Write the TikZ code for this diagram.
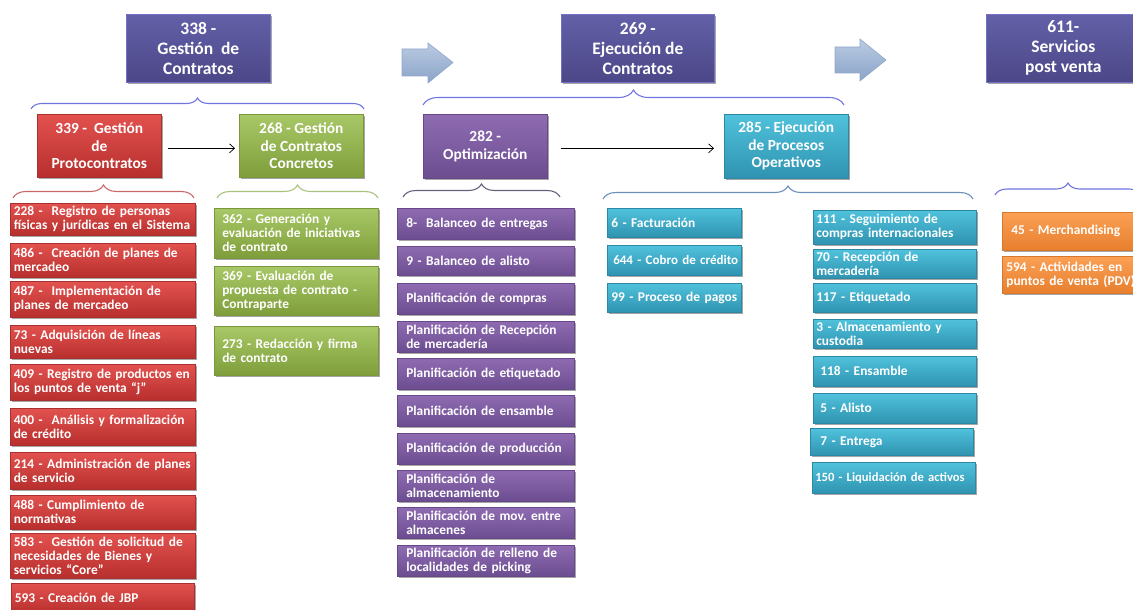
\documentclass[tikz,border=0pt]{standalone}
\usepackage{fontspec}
\setmainfont{Carlito}
\usetikzlibrary{shadows,decorations.pathreplacing,arrows.meta}
\definecolor{hdrT}{HTML}{6460A8}
\definecolor{hdrB}{HTML}{4B4787}
\definecolor{hdrD}{HTML}{7471C4}
\definecolor{redT}{HTML}{E2524F}
\definecolor{redB}{HTML}{B72F2D}
\definecolor{redD}{HTML}{A8302E}
\definecolor{grnT}{HTML}{A8C766}
\definecolor{grnB}{HTML}{7F9E3B}
\definecolor{grnD}{HTML}{7A973C}
\definecolor{purT}{HTML}{8F6CB2}
\definecolor{purB}{HTML}{6C4D90}
\definecolor{purD}{HTML}{67498A}
\definecolor{cyaT}{HTML}{50C2DC}
\definecolor{cyaB}{HTML}{2F93B0}
\definecolor{cyaD}{HTML}{2C88A3}
\definecolor{oraT}{HTML}{FBA055}
\definecolor{oraB}{HTML}{E77F2E}
\definecolor{oraD}{HTML}{D5772C}
\definecolor{arrT}{HTML}{BACBE3}
\definecolor{arrB}{HTML}{8AA3C7}
\definecolor{arrD}{HTML}{8FA7C9}
\definecolor{brBlue}{HTML}{7075E2}
\definecolor{brRed}{HTML}{C96868}
\definecolor{brGrn}{HTML}{A9C27C}
\definecolor{brPur}{HTML}{65607A}
\definecolor{brCya}{HTML}{6A8EB8}
\begin{document}
\begin{tikzpicture}[x=1pt,y=-1pt,
  shd/.style={drop shadow={shadow xshift=1.2pt,shadow yshift=-1.8pt,opacity=0.35,fill=black}},
  hdr/.style={rectangle,anchor=north west,inner sep=0pt,shd,top color=hdrT,bottom color=hdrB,draw=hdrD,line width=0.7pt,
    text=white,align=center,font=\fontsize{17.5}{20}\selectfont\bfseries},
  lvl/.style={rectangle,anchor=north west,inner sep=0pt,shd,line width=0.6pt,
    text=white,align=center,font=\fontsize{15.4}{17.5}\selectfont\bfseries,minimum width=124pt,minimum height=63pt},
  box/.style={rectangle,anchor=north west,inner ysep=0pt,shd,line width=0.6pt,
    text=white,align=left,font=\fontsize{13.4}{14}\selectfont\bfseries,
    execute at begin node={\hyphenpenalty=10000\exhyphenpenalty=10000\hbadness=10000\hfuzz=50pt}},
  redc/.style={top color=redT,bottom color=redB,draw=redD},
  grnc/.style={top color=grnT,bottom color=grnB,draw=grnD},
  purc/.style={top color=purT,bottom color=purB,draw=purD},
  cyac/.style={top color=cyaT,bottom color=cyaB,draw=cyaD},
  orac/.style={top color=oraT,bottom color=oraB,draw=oraD},
  redbox/.style={box,redc,inner xsep=3.5pt,text width=178pt},
  grnbox/.style={box,grnc,inner xsep=8pt,text width=148pt},
  purbox/.style={box,purc,inner xsep=9pt,text width=159pt},
  cyalbox/.style={box,cyac,inner xsep=4pt,text width=126pt},
  cyarbox/.style={box,cyac,inner xsep=3pt,text width=157pt},
  orabox/.style={box,orac,inner xsep=4pt,text width=130pt},
  bigarrow/.style={top color=arrT,bottom color=arrB,draw=arrD,line width=0.6pt},
  conn/.style={draw=black,line width=0.7pt,-{Straight Barb[length=5pt,width=9pt]}},
  brc/.style={draw=#1,line width=1.1pt,decorate,decoration={brace,amplitude=13pt}}
]
\useasboundingbox (0,0) rectangle (1133,610);
\clip (0,0) rectangle (1133,610);

% ---------- big arrows ----------
\path[bigarrow] (402,49) -- (428,49) -- (428,43) -- (453,62.5) -- (428,83) -- (428,76) -- (402,76) -- cycle;
\path[bigarrow] (835,47) -- (860,47) -- (860,39) -- (886,60) -- (860,81) -- (860,73) -- (835,73) -- cycle;

% ---------- headers ----------
\node[hdr,minimum width=144pt,minimum height=68pt] (h338) at (126,14) {338 -\\Gestión~ de\\Contratos};
\node[hdr,minimum width=153pt,minimum height=68pt] (h269) at (561,14) {269 -\\Ejecución de\\Contratos};
\node[hdr,minimum width=154pt,minimum height=68pt] (h611) at (986,14) {611-\\Servicios\\post venta};

% ---------- header braces ----------
\coordinate (bA1) at (31,109);  \coordinate (bA2) at (364,109);
\coordinate (bB1) at (423,105); \coordinate (bB2) at (844,105);
\coordinate (bC1) at (995,195); \coordinate (bC2) at (1141,195);
\draw[brc=brBlue,decoration={amplitude=11pt}] (bA1) -- (bA2);
\draw[brc=brBlue,decoration={amplitude=15pt}] (bB1) -- (bB2);
\draw[brc=brBlue,decoration={amplitude=12pt}] (bC1) -- (bC2);

% ---------- level 2 ----------
\node[lvl,redc] (n339) at (37,114) {339 -~ Gestión\\de\\Protocontratos};
\node[lvl,grnc] (n268) at (239,114) {268 - Gestión\\de Contratos\\Concretos};
\node[lvl,purc,minimum height=64pt] (n282) at (423,114) {282 -\\Optimización};
\node[lvl,cyac,minimum height=64pt] (n285) at (724,114) {285 - Ejecución\\de Procesos\\Operativos};

\draw[conn,shorten <=6pt,shorten >=4pt] ([yshift=-2.5pt]n339.east) -- ([yshift=-2.5pt]n268.west);
\draw[conn,shorten <=13pt,shorten >=10pt] ([yshift=-2pt]n282.east) -- ([yshift=-2pt]n285.west);

% ---------- level 3 braces ----------
\coordinate (bR1) at (13,198);  \coordinate (bR2) at (194,198);
\coordinate (bG1) at (217,198); \coordinate (bG2) at (378,198);
\coordinate (bP1) at (403,197); \coordinate (bP2) at (560,197);
\coordinate (bQ1) at (603,199); \coordinate (bQ2) at (973,199);
\draw[brc=brRed] (bR1) -- (bR2);
\draw[brc=brGrn] (bG1) -- (bG2);
\draw[brc=brPur] (bP1) -- (bP2);
\draw[brc=brCya] (bQ1) -- (bQ2);

% ---------- red column ----------
\node[redbox,minimum height=32pt] (r228) at (10,203) {228 -~ Registro de personas\\físicas~y~jurídicas~en~el~Sistema};
\node[redbox,minimum height=34pt] (r486) at (10,243) {486 -~ Creación de planes de\\mercadeo};
\node[redbox,minimum height=36pt] (r487) at (10,281) {487 -~ Implementación de\\planes de mercadeo};
\node[redbox,minimum height=33pt] (r73) at (10,325) {73 - Adquisición de líneas\\nuevas};
\node[redbox,minimum height=36pt] (r409) at (10,364) {409~-~Registro~de~productos~en\\los puntos de venta “j”};
\node[redbox,minimum height=37pt] (r400) at (10,408) {400 -~ Análisis~y~formalización\\de crédito};
\node[redbox,minimum height=37pt] (r214) at (10,452) {214~-~Administración~de~planes\\de servicio};
\node[redbox,minimum height=34pt] (r488) at (10,495) {488 - Cumplimiento de\\normativas};
\node[redbox,minimum height=45pt] (r583) at (10,533) {583 -~ Gestión~de~solicitud~de\\necesidades de Bienes y\\servicios “Core”};
\node[redbox,minimum height=30pt,text width=176pt] (r593) at (11,583) {593 - Creación de JBP};

% ---------- green column ----------
\node[grnbox,minimum height=50pt] (g362) at (214,208) {362 - Generación y\\evaluación~de~iniciativas\\de contrato};
\node[grnbox,minimum height=49pt] (g369) at (214,266) {369 - Evaluación de\\propuesta~de~contrato~-\\Contraparte};
\node[grnbox,minimum height=49pt] (g273) at (214,326) {273 - Redacción y firma\\de contrato};

% ---------- purple column ----------
\node[purbox,minimum height=31pt] (p8) at (397,208) {8-~ Balanceo de entregas};
\node[purbox,minimum height=29pt] (p9) at (397,246) {9 - Balanceo de alisto};
\node[purbox,minimum height=31pt] (pcom) at (397,283) {Planificación de compras};
\node[purbox,minimum height=31pt] (prec) at (397,321) {Planificación~de~Recepción\\de mercadería};
\node[purbox,minimum height=31pt] (peti) at (397,358) {Planificación de etiquetado};
\node[purbox,minimum height=31pt] (pens) at (397,395) {Planificación de ensamble};
\node[purbox,minimum height=31pt] (ppro) at (397,433) {Planificación~de~producción};
\node[purbox,minimum height=31pt] (palm) at (397,470) {Planificación de\\almacenamiento};
\node[purbox,minimum height=31pt] (pmov) at (397,507) {Planificación~de~mov.~entre\\almacenes};
\node[purbox,minimum height=31pt] (prel) at (397,545) {Planificación~de~relleno~de\\localidades de picking};

% ---------- cyan left ----------
\node[cyalbox,minimum height=29pt] (c6) at (607,208) {6 - Facturación};
\node[cyalbox,minimum height=30pt,font=\fontsize{13}{14}\selectfont\bfseries] (c644) at (607,245) {\hspace*{2pt}644~-~Cobro~de~crédito};
\node[cyalbox,minimum height=29pt] (c99) at (607,283) {99 - Proceso de pagos};

% ---------- cyan right ----------
\node[cyarbox,minimum height=34pt] (d111) at (813,210) {111 - Seguimiento de\\compras~internacionales};
\node[cyarbox,minimum height=29pt] (d70) at (813,249) {70 - Recepción de\\mercadería};
\node[cyarbox,minimum height=29pt] (d117) at (813,283) {117 - Etiquetado};
\node[cyarbox,minimum height=29pt] (d3) at (813,319) {3 - Almacenamiento y\\custodia};
\node[cyarbox,minimum height=30pt] (d118) at (813,356) {\hspace*{4pt}118 - Ensamble};
\node[cyarbox,minimum height=30pt] (d5) at (813,393) {\hspace*{4pt}5 - Alisto};
\node[cyarbox,minimum height=27pt] (d7) at (810,428) {\hspace*{7pt}7 - Entrega};
\node[cyarbox,minimum height=31pt,font=\fontsize{12.6}{14}\selectfont\bfseries] (d150) at (812,462) {150~-~Liquidación~de~activos};

% ---------- orange ----------
\node[orabox,minimum height=38pt] (o45) at (1002,212) {\hspace*{5pt}45 - Merchandising};
\node[orabox,minimum height=37pt] (o594) at (1002,256) {594 - Actividades en\\puntos~de~venta~(PDV)};
\end{tikzpicture}
\end{document}
